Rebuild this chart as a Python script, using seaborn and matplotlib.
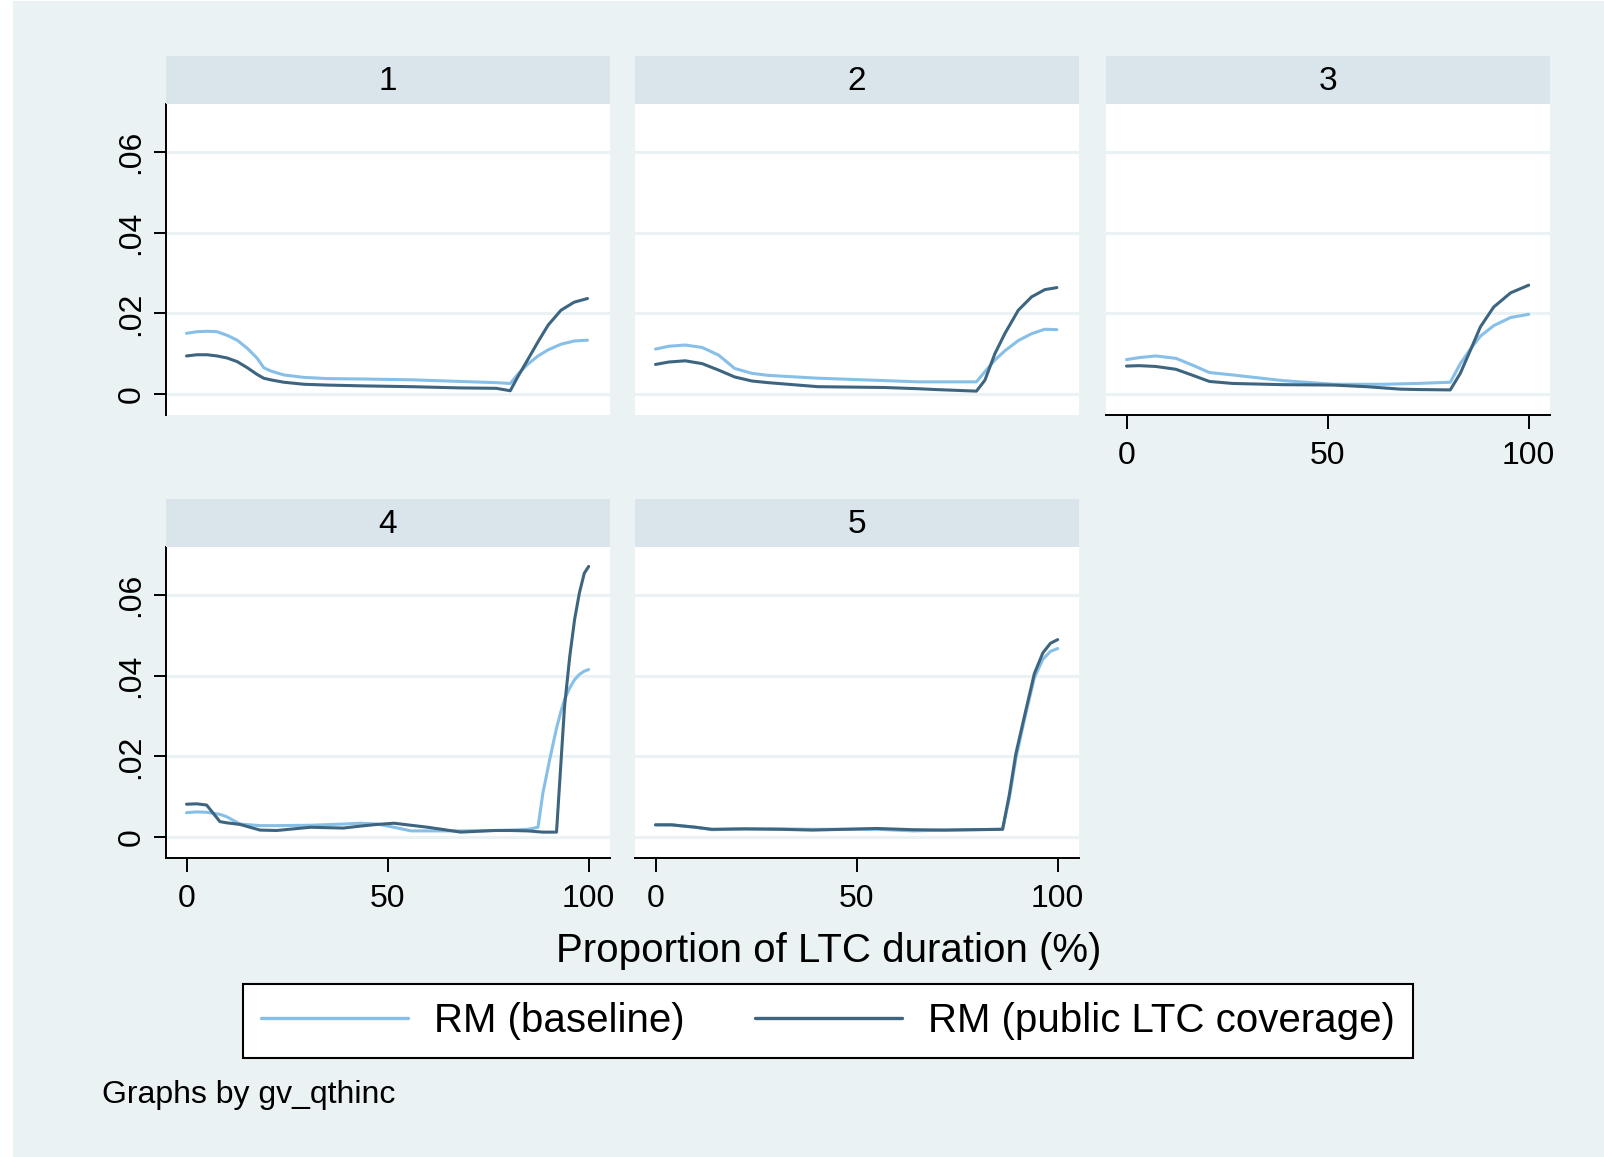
import numpy as np
import pandas as pd
import matplotlib
matplotlib.use("Agg")
import matplotlib.pyplot as plt
import seaborn as sns
from matplotlib.lines import Line2D
from matplotlib.patches import Rectangle

# values, one set per gv_qthinc group
x_g1 = [0, 2.6, 5.1, 7.6, 10.1, 12.6, 15.1, 17.6, 19.2, 20.9, 24.2, 29.2, 35, 44, 56, 68, 77,
        80.5, 82.4, 84.8, 87.4, 89.9, 93.1, 96.4, 99.7]
base_g1 = [0.0151, 0.0155, 0.0156, 0.0155, 0.0146, 0.0134, 0.0114, 0.0089, 0.0066, 0.0058,
           0.0048, 0.0042, 0.0039, 0.0038, 0.0036, 0.0032, 0.0029, 0.0027, 0.0050, 0.0074,
           0.0095, 0.0110, 0.0124, 0.0132, 0.0134]
pub_g1 = [0.0095, 0.0098, 0.0098, 0.0095, 0.0090, 0.0081, 0.0066, 0.0049, 0.0040, 0.0036,
          0.0030, 0.0025, 0.0023, 0.0021, 0.0019, 0.0016, 0.0015, 0.0009, 0.0044, 0.0085,
          0.0130, 0.0171, 0.0208, 0.0228, 0.0237]

x_g2 = [0, 3.3, 7.4, 11.6, 15.7, 19.7, 24, 28, 40.4, 57, 65.3, 69.5, 79.8, 81.9, 84.4, 86.9,
        90.2, 93.5, 96.8, 99.8]
base_g2 = [0.0112, 0.0119, 0.0122, 0.0116, 0.0097, 0.0064, 0.0052, 0.0047, 0.0040, 0.0034,
           0.0031, 0.0031, 0.0031, 0.0056, 0.0085, 0.0108, 0.0133, 0.0150, 0.0161, 0.0160]
pub_g2 = [0.0074, 0.0080, 0.0083, 0.0076, 0.0060, 0.0043, 0.0033, 0.0029, 0.0019, 0.0017,
          0.0014, 0.0012, 0.0008, 0.0035, 0.0101, 0.0151, 0.0208, 0.0241, 0.0259, 0.0264]

x_g3 = [0, 3.2, 7.3, 12.3, 16.5, 20.6, 26.4, 38.9, 51.4, 59.7, 63.9, 68, 72.2, 80.5, 83,
        85.5, 88, 91.3, 95.5, 100]
base_g3 = [0.0086, 0.0091, 0.0095, 0.0089, 0.0072, 0.0054, 0.0048, 0.0034, 0.0025, 0.0025,
           0.0025, 0.0026, 0.0027, 0.0030, 0.0076, 0.0112, 0.0144, 0.0170, 0.0190, 0.0198]
pub_g3 = [0.0070, 0.0071, 0.0069, 0.0062, 0.0047, 0.0032, 0.0027, 0.0024, 0.0023, 0.0019,
          0.0016, 0.0013, 0.0012, 0.0011, 0.0052, 0.0109, 0.0167, 0.0216, 0.0251, 0.0270]

x_g4 = [0, 2.5, 5, 8.3, 10, 13.3, 18.3, 22.4, 30.8, 39, 43.3, 47.4, 51.6, 55.8, 60, 68.2,
        76.6, 80.7, 84.9, 87.4, 88.6, 90.3, 92, 93.2, 94, 95.3, 96.5, 97.7, 98.9, 100]
base_g4 = [0.0061, 0.0063, 0.0062, 0.0057, 0.0051, 0.0033, 0.0029, 0.0029, 0.0030, 0.0033,
           0.0035, 0.0033, 0.0025, 0.0016, 0.0016, 0.0016, 0.0017, 0.0018, 0.0020, 0.0025,
           0.0109, 0.0192, 0.0270, 0.0315, 0.0341, 0.0370, 0.0390, 0.0403, 0.0411, 0.0415]
pub_g4 = [0.0082, 0.0083, 0.0080, 0.0039, 0.0036, 0.0032, 0.0018, 0.0017, 0.0025, 0.0023,
          0.0028, 0.0032, 0.0035, 0.0030, 0.0025, 0.0013, 0.0017, 0.0017, 0.0016, 0.0014,
          0.0013, 0.0013, 0.0013, 0.0200, 0.0324, 0.0448, 0.0539, 0.0605, 0.0653, 0.0670]

x_g5 = [0, 4, 10, 14, 22, 31, 39, 47, 55, 64, 72, 86.3, 88, 89.6, 91.7, 94.2, 96.3, 98.2, 100]
base_g5 = [0.0031, 0.0031, 0.0025, 0.0019, 0.0021, 0.0021, 0.0020, 0.0020, 0.0020, 0.0016,
           0.0018, 0.0020, 0.0098, 0.0195, 0.0290, 0.0395, 0.0440, 0.0460, 0.0467]
pub_g5 = [0.0031, 0.0031, 0.0025, 0.0020, 0.0021, 0.0020, 0.0018, 0.0020, 0.0022, 0.0019,
          0.0018, 0.0020, 0.0107, 0.0207, 0.0298, 0.0405, 0.0456, 0.0480, 0.0489]

groups = ["1", "2", "3", "4", "5"]
series_names = ["RM (baseline)", "RM (public LTC coverage)"]
x_ticks = [0, 50, 100]
y_ticks = [0, 0.02, 0.04, 0.06]
y_tick_labels = ["0", ".02", ".04", ".06"]

LIGHT = "#86BFE8"
DARK = "#3E6580"
BG = "#EAF2F3"
STRIP = "#D9E5EB"
GRID = "#EAF2F3"

# long table for seaborn
rows = []
all_x = [x_g1, x_g2, x_g3, x_g4, x_g5]
all_base = [base_g1, base_g2, base_g3, base_g4, base_g5]
all_pub = [pub_g1, pub_g2, pub_g3, pub_g4, pub_g5]
for g, xs, bs, ps in zip(groups, all_x, all_base, all_pub):
    for xv, bv, pv in zip(xs, bs, ps):
        rows.append((g, xv, series_names[0], bv))
        rows.append((g, xv, series_names[1], pv))
df = pd.DataFrame(rows, columns=["group", "pct", "series", "rm"])

sns.set_style("white")
plt.rcParams["font.family"] = ["Liberation Sans", "DejaVu Sans"]
plt.rcParams["text.color"] = "black"
plt.rcParams["xtick.color"] = "black"
plt.rcParams["ytick.color"] = "black"
plt.rcParams["axes.labelcolor"] = "black"

W, H = 1604, 1157
fig = plt.figure(figsize=(W / 100, H / 100), dpi=100)
fig.patch.set_facecolor("white")
fig.add_artist(Rectangle((13 / W, 0), 1 - 13 / W, 1 - 1 / H, transform=fig.transFigure,
                         facecolor=BG, edgecolor="none", zorder=-10))


def px_axes(left, top, width, height):
    return fig.add_axes([left / W, 1 - (top + height) / H, width / W, height / H])


col_left = [166, 635, 1106]
row_top = [104, 547]
panel_w, panel_h = 444, 311
strip_h = 48
positions = [(0, 0), (0, 1), (0, 2), (1, 0), (1, 1)]
bottom_panels = ["3", "4", "5"]

for g, (r, c) in zip(groups, positions):
    ax = px_axes(col_left[c], row_top[r], panel_w, panel_h)
    ax.set_facecolor("white")
    sub = df[df["group"] == g]
    sns.lineplot(data=sub, x="pct", y="rm", hue="series", hue_order=series_names,
                 palette=[LIGHT, DARK], linewidth=2.2, legend=False, ax=ax)
    ax.set_xlim(-5.1, 105.3)
    ax.set_ylim(-0.0051, 0.0718)
    ax.set_xticks(x_ticks)
    ax.set_yticks(y_ticks)
    ax.set_xlabel("")
    ax.set_ylabel("")
    ax.yaxis.grid(True, color=GRID, linewidth=2.2)
    ax.xaxis.grid(False)
    ax.set_axisbelow(True)
    for s in ax.spines.values():
        s.set_visible(False)

    if c == 0:
        ax.spines["left"].set_visible(True)
        ax.spines["left"].set_color("black")
        ax.spines["left"].set_linewidth(1.4)
        ax.set_yticklabels(y_tick_labels)
        ax.tick_params(axis="y", left=True, length=9, width=1.4, color="black",
                       labelsize=23, pad=5, labelrotation=90)
        for lab in ax.get_yticklabels():
            lab.set_va("center")
    else:
        ax.tick_params(axis="y", left=False, labelleft=False)

    if g in bottom_panels:
        ax.spines["bottom"].set_visible(True)
        ax.spines["bottom"].set_color("black")
        ax.spines["bottom"].set_linewidth(1.4)
        ax.tick_params(axis="x", bottom=True, length=10, width=1.4, color="black",
                       labelsize=23, pad=9)
    else:
        ax.tick_params(axis="x", bottom=False, labelbottom=False)

    # strip header
    sax = px_axes(col_left[c], row_top[r] - strip_h, panel_w, strip_h)
    sax.set_facecolor(STRIP)
    sax.set_xticks([])
    sax.set_yticks([])
    for s in sax.spines.values():
        s.set_visible(False)
    sax.text(0.5, 0.47, g, ha="center", va="center", fontsize=24, transform=sax.transAxes)

fig.text(829 / W, 1 - 951 / H, "Proportion of LTC duration (%)", ha="center", va="center",
         fontsize=29)

handles = [Line2D([], [], color=LIGHT, lw=2.4), Line2D([], [], color=DARK, lw=2.4)]
leg = fig.legend(handles, series_names, loc="center", bbox_to_anchor=(828 / W, 1 - 1021 / H),
                 ncol=2, frameon=True, fancybox=False, edgecolor="black", framealpha=1,
                 fontsize=29, handlelength=3.65, handletextpad=0.65, columnspacing=1.75,
                 borderpad=0.45)
leg.get_frame().set_linewidth(1.5)

fig.text(102 / W, 1 - 1095 / H, "Graphs by gv_qthinc", ha="left", va="center", fontsize=23)

fig.savefig("out.png", dpi=100, facecolor=fig.get_facecolor())
